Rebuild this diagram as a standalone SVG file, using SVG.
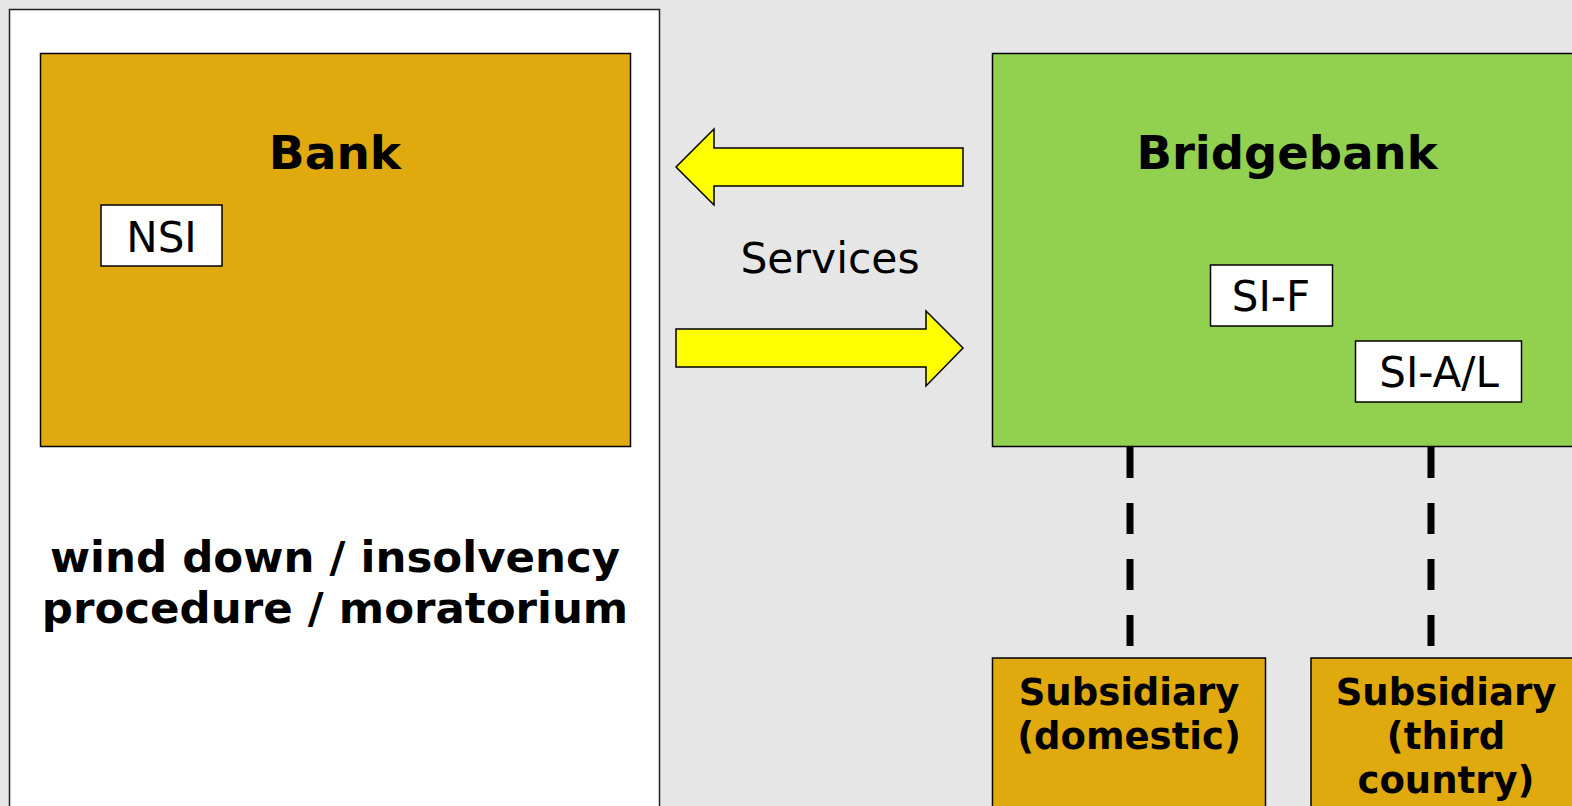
<svg xmlns="http://www.w3.org/2000/svg" width="1572" height="806" viewBox="0 0 1572 806">
<style>
.box{stroke:#000;stroke-width:1.5}
.gold{fill:#e0aa0f}
.white{fill:#fff}
.green{fill:#92d050}
.arrow{fill:#ffff00;stroke:#000;stroke-width:1.5;stroke-linejoin:miter}
.dash{stroke:#000;stroke-width:7;stroke-dasharray:31 25;fill:none}
text{font-family:"DejaVu Sans",Verdana,sans-serif;fill:#000;text-anchor:middle}
.b{font-weight:bold}
.s{font-size:42px}
</style>
<rect x="0" y="0" width="1572" height="806" fill="#e6e6e6"/>
<g id="panel">
<rect x="9.5" y="9.5" width="650" height="820" fill="#fff" stroke="#222" stroke-width="1.5"/>
<text class="b" x="335" y="572" font-size="43.5">wind down / insolvency</text>
<text class="b" x="335" y="623" font-size="43.5">procedure / moratorium</text>
</g>
<g id="bank">
<rect class="box gold" x="40.5" y="53.5" width="590" height="393"/>
<text class="b" x="335" y="169" font-size="47">Bank</text>
</g>
<g id="nsi">
<rect class="box white" x="101" y="205" width="121" height="61"/>
<text class="s" x="161.5" y="252">NSI</text>
</g>
<g id="bridgebank">
<rect class="box green" x="992.5" y="53.5" width="600" height="393"/>
<text class="b" x="1287" y="169" font-size="46.5">Bridgebank</text>
</g>
<g id="sif">
<rect class="box white" x="1210.5" y="265" width="122" height="61"/>
<text class="s" x="1271" y="311">SI-F</text>
</g>
<g id="sial">
<rect class="box white" x="1355.5" y="341" width="166" height="61"/>
<text class="s" x="1439" y="387">SI-A/L</text>
</g>
<g id="sub-domestic">
<rect class="box gold" x="992.5" y="658" width="273" height="200"/>
<text class="b" x="1129" y="705" font-size="37">Subsidiary</text>
<text class="b" x="1129" y="749" font-size="37">(domestic)</text>
</g>
<g id="sub-third">
<rect class="box gold" x="1311" y="658" width="300" height="200"/>
<text class="b" x="1446" y="705" font-size="37">Subsidiary</text>
<text class="b" x="1446" y="749" font-size="37">(third</text>
<text class="b" x="1446" y="793" font-size="37">country)</text>
</g>
<g id="services">
<text x="830" y="273" font-size="42.5">Services</text>
</g>
<g id="connectors">
<polygon class="arrow" points="676,167 714,129 714,148 963,148 963,186 714,186 714,205"/>
<polygon class="arrow" points="963,348 926,311 926,329 676,329 676,367 926,367 926,386"/>
<line class="dash" x1="1130" y1="447" x2="1130" y2="650"/>
<line class="dash" x1="1431" y1="447" x2="1431" y2="650"/>
</g>
</svg>
